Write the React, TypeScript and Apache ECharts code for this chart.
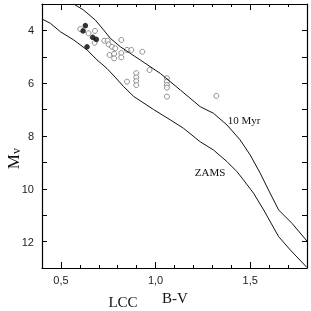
import React, { useEffect, useRef } from "react";
import * as echarts from "echarts";

const zams: number[][] = [
  [0.4, 3.57], [0.444, 3.73], [0.497, 4.05], [0.567, 4.36], [0.638, 4.74], [0.691, 5.12],
  [0.743, 5.44], [0.79, 5.8], [0.83, 6.12], [0.884, 6.5], [0.99, 7.0], [1.078, 7.39], [1.148, 7.71],
  [1.236, 8.22], [1.306, 8.53], [1.377, 8.97], [1.43, 9.35], [1.465, 9.67], [1.518, 10.17],
  [1.571, 10.8], [1.65, 11.81], [1.712, 12.32], [1.8, 12.98],
];

const myr10: number[][] = [
  [0.567, 3.0], [0.62, 3.23], [0.682, 3.61], [0.725, 3.98], [0.761, 4.3], [0.814, 4.62],
  [0.866, 4.87], [0.919, 5.12], [1.025, 5.63], [1.131, 6.26], [1.236, 6.89], [1.306, 7.14],
  [1.377, 7.58], [1.447, 8.15], [1.5, 8.72], [1.553, 9.41], [1.597, 10.05], [1.65, 10.8],
  [1.721, 11.31], [1.8, 11.98],
];

const openStars: number[][] = [
  [0.602, 3.95], [0.646, 4.11], [0.68, 4.02], [0.678, 4.47], [0.729, 4.39], [0.747, 4.39],
  [0.752, 4.53], [0.77, 4.62], [0.787, 4.68], [0.819, 4.36], [0.757, 4.93], [0.781, 4.89],
  [0.781, 5.06], [0.819, 4.86], [0.819, 5.02], [0.849, 4.74], [0.872, 4.74], [0.93, 4.81],
  [0.968, 5.5], [0.849, 5.94], [0.898, 5.62], [0.898, 5.78], [0.898, 5.92], [0.898, 6.07],
  [1.06, 5.81], [1.06, 5.94], [1.06, 6.07], [1.06, 6.17], [1.06, 6.51], [1.321, 6.48],
];

const filledStars: number[][] = [
  [0.629, 3.82], [0.617, 4.02], [0.668, 4.26], [0.687, 4.34], [0.638, 4.62],
];

const xMajorTicks = [0.5, 1.0, 1.5];
const yLabelTicks = [4, 6, 8, 10, 12];

const serif = "'Liberation Serif', 'DejaVu Serif', serif";
const sans = "'Liberation Sans', Arial, sans-serif";

export default function App() {
  const ref = useRef<HTMLDivElement>(null);
  useEffect(() => {
    if (!ref.current) return;
    const chart = echarts.init(ref.current, null, { renderer: "svg" });
    const axisLine = { show: true, lineStyle: { color: "#000", width: 1.2 } };
    const tickStyle = { color: "#000", width: 1 };
    const fmtX = (v: number) => {
      const r = Math.round(v * 10);
      return r % 5 === 0 ? (r / 10).toFixed(1).replace(".", ",") : "";
    };
    const baseX = {
      type: "value",
      min: 0.4,
      max: 1.8,
      interval: 0.1,
      splitLine: { show: false },
      axisLine,
    };
    const baseY = {
      type: "value",
      min: 3,
      max: 13,
      interval: 1,
      inverse: true,
      splitLine: { show: false },
      axisLine,
    };
    const majorX = {
      type: "value",
      gridIndex: 1,
      min: 0.4,
      max: 1.8,
      splitLine: { show: false },
      axisLine: { show: false },
      axisLabel: { show: false },
    };
    const gridRect = { left: 42, right: 4, top: 4, bottom: 43, containLabel: false, outerBoundsMode: "none" };
    chart.setOption({
      animation: false,
      grid: [gridRect, { ...gridRect }],
      xAxis: [
        {
          ...baseX,
          gridIndex: 0,
          position: "bottom",
          axisTick: { inside: true, length: 3, lineStyle: tickStyle },
          axisLabel: { formatter: fmtX, fontFamily: sans, fontSize: 11, color: "#222", margin: 6 },
        },
        {
          ...baseX,
          gridIndex: 0,
          position: "top",
          axisTick: { inside: true, length: 3, lineStyle: tickStyle },
          axisLabel: { show: false },
        },
        {
          ...majorX,
          position: "bottom",
          axisTick: { show: true, inside: true, length: 6, customValues: xMajorTicks, lineStyle: tickStyle },
        },
        {
          ...majorX,
          position: "top",
          axisTick: { show: true, inside: true, length: 6, customValues: xMajorTicks, lineStyle: tickStyle },
        },
      ],
      yAxis: [
        {
          ...baseY,
          gridIndex: 0,
          position: "left",
          axisTick: { inside: true, length: 5, lineStyle: tickStyle },
          axisLabel: {
            fontFamily: sans,
            fontSize: 11,
            color: "#222",
            margin: 8,
            formatter: (v: number) => (yLabelTicks.includes(Math.round(v)) ? String(Math.round(v)) : ""),
          },
        },
        {
          ...baseY,
          gridIndex: 0,
          position: "right",
          axisTick: { inside: true, length: 5, lineStyle: tickStyle },
          axisLabel: { show: false },
        },
        {
          ...baseY,
          gridIndex: 1,
          position: "left",
          axisLine: { show: false },
          axisTick: { show: false },
          axisLabel: { show: false },
        },
      ],
      series: [
        {
          type: "line",
          data: zams,
          showSymbol: false,
          lineStyle: { color: "#111", width: 1 },
          xAxisIndex: 0,
          yAxisIndex: 0,
        },
        {
          type: "line",
          data: myr10,
          showSymbol: false,
          lineStyle: { color: "#111", width: 1 },
          xAxisIndex: 0,
          yAxisIndex: 0,
        },
        {
          type: "scatter",
          data: openStars,
          symbol: "circle",
          symbolSize: 5,
          itemStyle: { color: "#fff", borderColor: "#666", borderWidth: 0.9 },
          xAxisIndex: 0,
          yAxisIndex: 0,
        },
        {
          type: "scatter",
          data: filledStars,
          symbol: "circle",
          symbolSize: 5.5,
          itemStyle: { color: "#000" },
          xAxisIndex: 0,
          yAxisIndex: 0,
        },
      ],
      graphic: [
        {
          type: "text",
          x: 244,
          y: 120,
          style: { text: "10 Myr", font: `11px ${serif}`, fill: "#111", textAlign: "center", textVerticalAlign: "middle" },
        },
        {
          type: "text",
          x: 210,
          y: 172,
          style: { text: "ZAMS", font: `11px ${serif}`, fill: "#111", textAlign: "center", textVerticalAlign: "middle" },
        },
        {
          type: "text",
          x: 175,
          y: 298,
          style: { text: "B-V", font: `15px ${serif}`, fill: "#111", textAlign: "center", textVerticalAlign: "middle" },
        },
        {
          type: "text",
          x: 123,
          y: 302,
          style: { text: "LCC", font: `15px ${serif}`, fill: "#111", textAlign: "center", textVerticalAlign: "middle" },
        },
        {
          type: "group",
          x: 13,
          y: 154,
          rotation: Math.PI / 2,
          children: [
            {
              type: "text",
              x: 0,
              y: 0,
              style: { text: "M", font: `17px ${serif}`, fill: "#111", textAlign: "right", textVerticalAlign: "middle" },
            },
            {
              type: "text",
              x: 0,
              y: 3,
              style: { text: "v", font: `12px ${serif}`, fill: "#111", textAlign: "left", textVerticalAlign: "middle" },
            },
          ],
        },
      ],
    });
    return () => chart.dispose();
  }, []);
  return <div ref={ref} style={{ position: "fixed", left: 0, top: 0, width: 311, height: 311 }} />;
}
